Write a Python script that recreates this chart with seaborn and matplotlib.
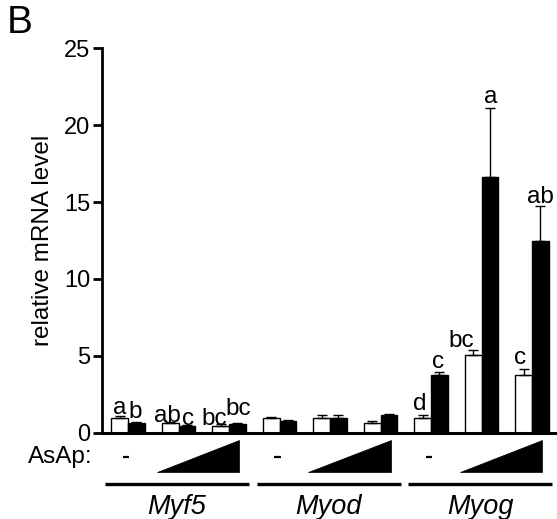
import matplotlib
matplotlib.use("Agg")
import matplotlib.pyplot as plt
from matplotlib.patches import Polygon
import numpy as np
import pandas as pd
import seaborn as sns

# ---------------- data ----------------
genes = ["Myf5", "Myod", "Myog"]
doses = ["none", "low", "high"]
groups = ["open", "filled"]

open_mean = [0.95, 0.62, 0.44, 0.95, 0.95, 0.65, 0.95, 5.05, 3.75]
open_err = [0.12, 0.08, 0.12, 0.10, 0.20, 0.08, 0.20, 0.33, 0.37]
filled_mean = [0.65, 0.44, 0.57, 0.78, 0.94, 1.15, 3.75, 16.6, 12.45]
filled_err = [0.04, 0.03, 0.03, 0.03, 0.20, 0.06, 0.22, 4.50, 2.30]

open_letters = ["a", "ab", "bc", "", "", "", "d", "bc", "c"]
filled_letters = ["b", "c", "bc", "", "", "", "c", "a", "ab"]

yticks = [0, 5, 10, 15, 20, 25]

# layout: letter nudges (dx, gap above the error cap) in pixels
open_nudge = [(0, 2), (-3, 0), (-6, -1), (0, 0), (0, 0), (0, 0), (-3, 5), (-12, 3), (-3, 5)]
filled_nudge = [(-1, 4.5), (1, 0), (1, 8.5), (0, 0), (0, 0), (0, 0), (-1, 4), (1, 5), (0, 3)]

# ---------------- build table ----------------
conds = [f"{g}_{d}" for g in genes for d in doses]
rows = []
for i, c in enumerate(conds):
    rows.append((c, "open", open_mean[i]))
    rows.append((c, "filled", filled_mean[i]))
df = pd.DataFrame(rows, columns=["cond", "group", "value"])

# ---------------- figure ----------------
sns.set_style("ticks")
plt.rcParams["font.family"] = ["Liberation Sans", "DejaVu Sans"]
plt.rcParams.update({"text.color": "black", "axes.labelcolor": "black",
                     "xtick.color": "black", "ytick.color": "black",
                     "axes.edgecolor": "black"})

W, H = 557, 519
fig = plt.figure(figsize=(W / 100, H / 100), dpi=100)
y0_px, y25_px, xl_px = 432.7, 48.3, 102
ax = fig.add_axes([xl_px / W, (H - y0_px) / H, (W - xl_px) / W, (y0_px - y25_px) / H])

sns.barplot(data=df, x="cond", y="value", hue="group", order=conds,
            hue_order=groups, palette={"open": "white", "filled": "black"},
            edgecolor="black", linewidth=1.0, width=0.67, errorbar=None,
            legend=False, ax=ax, saturation=1)

PX = 0.72  # points per pixel at dpi 100
for cont, means, errs, letters, nudges in zip(
        ax.containers, [open_mean, filled_mean], [open_err, filled_err],
        [open_letters, filled_letters], [open_nudge, filled_nudge]):
    xs = [p.get_x() + p.get_width() / 2 for p in cont.patches]
    ax.errorbar(xs, means, yerr=[np.zeros(len(means)), errs], fmt="none",
                ecolor="black", elinewidth=1.0, capsize=3.5, capthick=1.0,
                zorder=3)
    for x, m, e, t, (dx, dy) in zip(xs, means, errs, letters, nudges):
        if t:
            ax.annotate(t, (x, m + e), xytext=(dx * PX, dy * PX),
                        textcoords="offset points", ha="center", va="baseline",
                        fontsize=17.5, color="black")

ax.set_xlim(-0.515, 8.495)
ax.set_ylim(0, 25)
ax.set_yticks(yticks)
ax.set_xticks([])
ax.set_xlabel("")
ax.set_ylabel("relative mRNA level", fontsize=17.5, labelpad=7, color="black")
ax.tick_params(axis="y", labelsize=17, length=6.5, width=2, direction="out", pad=2,
               colors="black")
for s in ["top", "right"]:
    ax.spines[s].set_visible(False)
ax.spines["left"].set_linewidth(2)
ax.spines["bottom"].set_linewidth(2.2)
ax.spines["left"].set_color("black")
ax.spines["bottom"].set_color("black")

# ---------------- dose annotation below axis ----------------
def py(pix):
    return (y0_px - pix) / ((y0_px - y25_px) / 25)

ax.text(-0.71, py(463), "AsAp:", ha="right", va="baseline", fontsize=17.5,
        color="black", clip_on=False)
for gi, g in enumerate(genes):
    base = gi * 3
    ax.plot([base - 0.1, base + 0.02], [py(457), py(457)], color="black", lw=1.6,
            clip_on=False, solid_capstyle="butt")
    tri = Polygon([(base + 0.57, py(472)), (base + 2.2, py(472)), (base + 2.2, py(440))],
                  closed=True, facecolor="black", edgecolor="black", lw=0.5, clip_on=False)
    ax.add_patch(tri)
    ax.plot([base - 0.45, base + 2.4], [py(484), py(484)], color="black", lw=2.4,
            clip_on=False, solid_capstyle="butt")
    ax.text(base + 0.97, py(507), g, ha="center", va="center", fontsize=19.5,
            style="italic", color="black", clip_on=False)

fig.text(7 / W, 1 - 5 / H, "B", ha="left", va="top", fontsize=28, color="black")

fig.savefig("out.png", dpi=100)
